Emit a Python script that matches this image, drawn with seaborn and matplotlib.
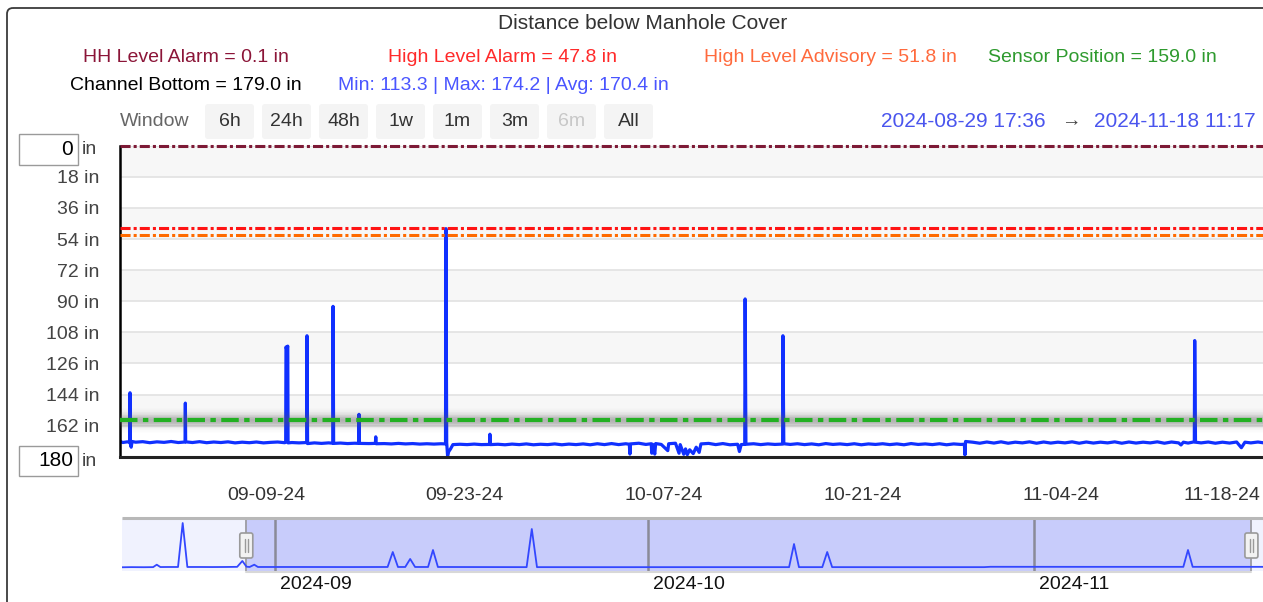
"""
Distance below Manhole Cover — level sensor chart with range overview.
"""
import numpy as np
import pandas as pd
import matplotlib
matplotlib.use("Agg")
import matplotlib.pyplot as plt
import matplotlib.dates as mdates
from matplotlib.patches import FancyBboxPatch, Rectangle
import seaborn as sns


# ── Thresholds & stats ─────────────────────────────────────
HH_ALARM = 0.1
HIGH_ALARM = 47.8
HIGH_ADVISORY = 51.8
SENSOR_POS = 159.0
CHANNEL_BOTTOM = 179.0
STAT_MIN, STAT_MAX, STAT_AVG = 113.3, 174.2, 170.4

WINDOW_START = "2024-08-29 17:36"
WINDOW_END = "2024-11-18 11:17"
OVERVIEW_START = "2024-08-19 18:00"
OVERVIEW_END = "2024-11-19 09:36"

Y_TICKS = [0, 18, 36, 54, 72, 90, 108, 126, 144, 162, 180]
X_TICKS = ["2024-09-09", "2024-09-23", "2024-10-07", "2024-10-21", "2024-11-04", "2024-11-18"]
MONTH_TICKS = ["2024-09-01", "2024-10-01", "2024-11-01"]
MONTH_LABELS = ["2024-09", "2024-10", "2024-11"]
WINDOW_BUTTONS = ["6h", "24h", "48h", "1w", "1m", "3m", "6m", "All"]

# ── Main series (distance below cover, inches) ────────────
MAIN_TIMES = [
    "2024-08-29 17:36", "2024-08-29 22:00", "2024-08-30 06:00", "2024-08-30 10:00",
    "2024-08-30 10:30", "2024-08-30 11:00", "2024-08-30 12:30", "2024-08-30 14:00",
    "2024-08-30 20:00", "2024-08-31 08:00", "2024-08-31 20:00", "2024-09-01 08:00",
    "2024-09-01 20:00", "2024-09-02 08:00", "2024-09-02 20:00", "2024-09-03 07:30",
    "2024-09-03 08:00", "2024-09-03 08:30", "2024-09-03 20:00", "2024-09-04 08:00",
    "2024-09-04 20:00", "2024-09-05 08:00", "2024-09-05 20:00", "2024-09-06 08:00",
    "2024-09-06 20:00", "2024-09-07 08:00", "2024-09-07 20:00", "2024-09-08 08:00",
    "2024-09-08 20:00", "2024-09-09 08:00", "2024-09-09 20:00", "2024-09-10 08:00",
    "2024-09-10 09:30", "2024-09-10 10:00", "2024-09-10 11:30", "2024-09-10 13:00",
    "2024-09-10 13:30", "2024-09-10 20:00", "2024-09-11 08:00", "2024-09-11 21:00",
    "2024-09-11 21:30", "2024-09-11 22:30", "2024-09-12 10:00", "2024-09-12 22:00",
    "2024-09-13 10:00", "2024-09-13 17:00", "2024-09-13 17:30", "2024-09-13 18:30",
    "2024-09-14 06:00", "2024-09-14 18:00", "2024-09-15 06:00", "2024-09-15 13:00",
    "2024-09-15 13:20", "2024-09-15 14:00", "2024-09-16 06:00", "2024-09-16 17:00",
    "2024-09-16 17:40", "2024-09-16 18:20", "2024-09-17 08:00", "2024-09-17 20:00",
    "2024-09-18 08:00", "2024-09-18 20:00", "2024-09-19 08:00", "2024-09-19 20:00",
    "2024-09-20 08:00", "2024-09-20 20:00", "2024-09-21 08:00", "2024-09-21 15:30",
    "2024-09-21 16:10", "2024-09-21 17:30", "2024-09-21 19:00", "2024-09-21 21:00",
    "2024-09-22 00:00", "2024-09-22 04:00", "2024-09-22 16:00", "2024-09-23 04:00",
    "2024-09-23 16:00", "2024-09-24 04:00", "2024-09-24 18:00", "2024-09-24 18:30",
    "2024-09-24 19:00", "2024-09-25 08:00", "2024-09-25 20:00", "2024-09-26 08:00",
    "2024-09-26 20:00", "2024-09-27 08:00", "2024-09-27 20:00", "2024-09-28 08:00",
    "2024-09-28 20:00", "2024-09-29 08:00", "2024-09-29 20:00", "2024-09-30 08:00",
    "2024-09-30 20:00", "2024-10-01 08:00", "2024-10-01 20:00", "2024-10-02 08:00",
    "2024-10-02 20:00", "2024-10-03 08:00", "2024-10-03 20:00", "2024-10-04 08:00",
    "2024-10-04 14:00", "2024-10-04 15:00", "2024-10-04 16:00", "2024-10-05 06:00",
    "2024-10-05 18:00", "2024-10-06 03:00", "2024-10-06 04:00", "2024-10-06 05:30",
    "2024-10-06 09:00", "2024-10-06 10:30", "2024-10-06 20:00", "2024-10-07 07:00",
    "2024-10-07 08:30", "2024-10-07 20:00", "2024-10-08 02:00", "2024-10-08 04:00",
    "2024-10-08 10:00", "2024-10-08 13:00", "2024-10-08 16:00", "2024-10-08 20:00",
    "2024-10-09 02:00", "2024-10-09 07:00", "2024-10-09 12:00", "2024-10-09 15:00",
    "2024-10-10 04:00", "2024-10-10 16:00", "2024-10-11 04:00", "2024-10-11 16:00",
    "2024-10-12 05:00", "2024-10-12 08:00", "2024-10-12 11:00", "2024-10-12 17:00",
    "2024-10-12 17:40", "2024-10-12 19:00", "2024-10-13 08:00", "2024-10-13 20:00",
    "2024-10-14 08:00", "2024-10-14 20:00", "2024-10-15 09:00", "2024-10-15 09:30",
    "2024-10-15 11:00", "2024-10-15 22:00", "2024-10-16 10:00", "2024-10-16 22:00",
    "2024-10-17 10:00", "2024-10-17 22:00", "2024-10-18 10:00", "2024-10-18 22:00",
    "2024-10-19 10:00", "2024-10-19 22:00", "2024-10-20 10:00", "2024-10-20 22:00",
    "2024-10-21 10:00", "2024-10-21 22:00", "2024-10-22 10:00", "2024-10-22 22:00",
    "2024-10-23 10:00", "2024-10-23 22:00", "2024-10-24 10:00", "2024-10-24 22:00",
    "2024-10-25 10:00", "2024-10-25 22:00", "2024-10-26 10:00", "2024-10-26 22:00",
    "2024-10-27 10:00", "2024-10-27 22:00", "2024-10-28 04:00", "2024-10-28 05:00",
    "2024-10-28 06:00", "2024-10-28 18:00", "2024-10-29 06:00", "2024-10-29 18:00",
    "2024-10-30 06:00", "2024-10-30 18:00", "2024-10-31 06:00", "2024-10-31 18:00",
    "2024-11-01 06:00", "2024-11-01 18:00", "2024-11-02 06:00", "2024-11-02 18:00",
    "2024-11-03 06:00", "2024-11-03 18:00", "2024-11-04 06:00", "2024-11-04 18:00",
    "2024-11-05 06:00", "2024-11-05 18:00", "2024-11-06 06:00", "2024-11-06 18:00",
    "2024-11-07 06:00", "2024-11-07 18:00", "2024-11-08 06:00", "2024-11-08 18:00",
    "2024-11-09 06:00", "2024-11-09 18:00", "2024-11-10 06:00", "2024-11-10 18:00",
    "2024-11-11 06:00", "2024-11-11 18:00", "2024-11-12 06:00", "2024-11-12 10:00",
    "2024-11-12 14:00", "2024-11-12 22:00", "2024-11-13 08:30", "2024-11-13 09:10",
    "2024-11-13 10:30", "2024-11-13 20:00", "2024-11-14 08:00", "2024-11-14 20:00",
    "2024-11-15 08:00", "2024-11-15 20:00", "2024-11-16 08:00", "2024-11-16 16:00",
    "2024-11-16 22:00", "2024-11-17 08:00", "2024-11-17 20:00", "2024-11-18 08:00",
    "2024-11-18 12:00", "2024-11-19 06:00",
]
MAIN_DEPTH = [
    171.0, 171.8, 171.4, 171.6,
    143.0, 172.4, 174.5, 171.2,
    171.6, 171.3, 171.9, 171.4,
    171.7, 171.2, 171.8, 171.5,
    149.0, 171.4, 171.8, 171.3,
    171.9, 171.5, 171.8, 171.4,
    172.0, 171.6, 171.9, 171.5,
    172.0, 171.7, 171.5, 171.9,
    171.6, 116.5, 118.0, 116.0,
    172.0, 171.8, 172.0, 171.8,
    110.0, 172.4, 172.0, 172.3,
    172.0, 172.2, 93.0, 172.3,
    172.1, 172.4, 172.2, 172.3,
    155.5, 172.3, 172.4, 172.3,
    168.5, 172.5, 172.4, 172.6,
    172.3, 172.6, 172.4, 172.7,
    172.5, 172.7, 172.5, 172.6,
    48.0, 172.0, 179.5, 177.0,
    175.5, 173.0, 172.8, 173.0,
    172.7, 173.0, 172.9, 167.0,
    173.0, 172.8, 173.1, 172.7,
    173.0, 172.6, 173.1, 172.8,
    173.0, 172.6, 173.1, 172.7,
    173.0, 172.6, 173.1, 172.5,
    173.0, 172.4, 173.0, 172.5,
    172.8, 178.5, 172.6, 172.2,
    172.9, 172.5, 178.0, 172.8,
    178.5, 172.4, 172.9, 176.5,
    172.5, 172.2, 178.0, 173.0,
    178.6, 175.5, 178.8, 176.0,
    178.2, 174.5, 177.5, 172.6,
    172.3, 173.0, 172.4, 173.1,
    172.8, 177.0, 173.0, 172.8,
    88.7, 172.8, 172.5, 173.0,
    172.6, 172.9, 172.7, 110.0,
    172.5, 172.9, 172.5, 173.0,
    172.6, 173.1, 172.4, 172.9,
    172.6, 173.0, 172.5, 173.1,
    172.6, 172.9, 172.5, 173.0,
    172.6, 173.1, 172.4, 172.9,
    172.6, 173.0, 172.5, 173.1,
    172.6, 172.9, 172.8, 179.0,
    171.2, 171.6, 172.2, 171.5,
    172.1, 171.4, 172.2, 171.6,
    172.0, 171.4, 172.2, 171.5,
    172.1, 171.6, 172.0, 171.4,
    172.2, 171.5, 172.1, 171.6,
    172.0, 171.4, 172.2, 171.5,
    172.1, 171.6, 172.0, 171.4,
    172.2, 171.5, 172.0, 173.2,
    171.6, 172.1, 171.4, 112.8,
    171.6, 172.0, 171.5, 172.2,
    171.6, 172.1, 171.5, 174.8,
    171.6, 172.0, 171.5, 172.1,
    171.6, 171.8,
]

# ── Overview series (smoothed, full record) ───────────────
OV_TIMES = [
    "2024-08-19 18:00", "2024-08-20 12:00", "2024-08-21 12:00", "2024-08-22 06:00",
    "2024-08-22 13:00", "2024-08-22 20:00", "2024-08-23 12:00", "2024-08-24 06:00",
    "2024-08-24 15:00", "2024-08-25 00:00", "2024-08-26 00:00", "2024-08-27 00:00",
    "2024-08-28 00:00", "2024-08-29 00:00", "2024-08-29 10:00", "2024-08-29 18:00",
    "2024-08-30 00:00", "2024-08-30 09:00", "2024-08-30 16:00", "2024-09-03 00:00",
    "2024-09-07 00:00", "2024-09-10 02:00", "2024-09-10 12:00", "2024-09-10 22:00",
    "2024-09-11 12:00", "2024-09-11 21:30", "2024-09-12 07:00", "2024-09-13 08:00",
    "2024-09-13 17:30", "2024-09-14 03:00", "2024-09-17 00:00", "2024-09-21 06:00",
    "2024-09-21 16:00", "2024-09-22 02:00", "2024-09-28 00:00", "2024-10-05 00:00",
    "2024-10-12 08:00", "2024-10-12 17:30", "2024-10-13 03:00", "2024-10-15 00:00",
    "2024-10-15 09:30", "2024-10-15 19:00", "2024-10-22 00:00", "2024-10-28 00:00",
    "2024-10-28 12:00", "2024-11-05 00:00", "2024-11-13 00:00", "2024-11-13 09:00",
    "2024-11-13 18:00", "2024-11-19 09:36",
]
OV_DEPTH = [
    172.0, 171.5, 171.8, 171.5,
    163.0, 171.2, 171.0, 171.0,
    17.5, 171.0, 171.0, 171.2,
    171.0, 170.5, 150.0, 170.0,
    171.0, 163.0, 171.0, 171.0,
    171.2, 171.0, 118.7, 171.0,
    171.0, 143.0, 171.0, 171.0,
    111.7, 171.0, 171.2, 171.5,
    38.4, 171.5, 171.6, 171.5,
    171.5, 90.8, 171.5, 171.5,
    118.7, 171.5, 171.6, 171.5,
    170.3, 170.5, 170.5, 111.7,
    170.5, 170.5,
]

# ── Layout in screenshot pixels ───────────────────────────
W, H = 1263, 602
MAIN_BOX = (120, 145.7, 1267, 456.7)   # left, top, right, bottom
OV_BOX = (122, 518, 1263, 571)

FONT = ["Liberation Sans", "DejaVu Sans"]


def fig_rect(l, t, r, b):
    return [l / W, 1 - b / H, (r - l) / W, (b - t) / H]


sns.set_style("white")
plt.rcParams["font.family"] = FONT

fig = plt.figure(figsize=(W / 100, H / 100), dpi=100)
fig.patch.set_facecolor("white")

# ── Main chart ─────────────────────────────────────────────
ax = fig.add_axes(fig_rect(*MAIN_BOX))
ax.set_facecolor("white")
ax.set_ylim(180, 0)

# alternating bands + grid
for i, y0 in enumerate(Y_TICKS[:-1]):
    if i % 2 == 0:
        ax.axhspan(y0, y0 + 18, color="#f7f7f7", lw=0, zorder=0)
ax.set_axisbelow(True)
ax.yaxis.grid(True, color="#e2e2e2", lw=1.2)
ax.xaxis.grid(False)

main_df = pd.DataFrame({"time": pd.to_datetime(MAIN_TIMES), "depth": MAIN_DEPTH})
sns.lineplot(data=main_df, x="time", y="depth", ax=ax, color="#1030ff",
             linewidth=2.3, zorder=2)

# sensor deadband shading (soft grey gradient)
edges = np.linspace(SENSOR_POS - 7.0, SENSOR_POS + 7.0, 36)
for a, b in zip(edges[:-1], edges[1:]):
    mid = (a + b) / 2
    alpha = 0.42 * np.exp(-((mid - SENSOR_POS) / 3.6) ** 2)
    ax.axhspan(a, b, color="#555555", alpha=alpha, lw=0, zorder=3)

# threshold lines
ax.axhline(HH_ALARM, color="#7d1a36", lw=2.2, dashes=(3.3, 1, 1, 1), clip_on=False, zorder=4)
ax.axhline(HIGH_ALARM, color="#ff1414", lw=2.2, dashes=(3.3, 1, 1, 1), zorder=4)
ax.axhline(HIGH_ADVISORY, color="#ff6a00", lw=2.2, dashes=(3.3, 1, 1, 1), zorder=4)
ax.axhline(SENSOR_POS, color="#22b022", lw=3.0, dashes=(4.2, 1.3, 1.3, 1.3), zorder=4)

# y axis
ax.set_yticks(Y_TICKS)
ax.set_yticklabels(["" if v in (0, 180) else f"{v} in" for v in Y_TICKS])
ax.set_yticks([v * 3.6 for v in range(50)], minor=True)
ax.tick_params(axis="y", which="major", direction="out", length=6.5, width=1.8,
               color="black", pad=8.5, labelsize=14, labelcolor="#444444")
ax.tick_params(axis="y", which="minor", direction="in", length=3, width=0.8, color="#9a9a9a")

# x axis
ax.set_xlim(mdates.date2num(pd.Timestamp(WINDOW_START)), mdates.date2num(pd.Timestamp(WINDOW_END)))
ax.set_xticks([mdates.date2num(pd.Timestamp(d)) for d in X_TICKS])
ax.set_xticklabels([pd.Timestamp(d).strftime("%m-%d-%y") for d in X_TICKS])
ax.set_xticks([mdates.date2num(d) for d in pd.date_range("2024-08-30", "2024-11-18", freq="2D")],
              minor=True)
ax.tick_params(axis="x", which="major", length=0, pad=22, labelsize=14, labelcolor="#333333")
ax.tick_params(axis="x", which="minor", direction="in", length=3, width=1, color="#9a9a9a")
ax.get_xticklabels()[-1].set_horizontalalignment("right")
ax.set_xlabel("")
ax.set_ylabel("")

for side in ("top", "right"):
    ax.spines[side].set_visible(False)
ax.spines["left"].set_color("black")
ax.spines["left"].set_linewidth(1.8)
ax.spines["bottom"].set_color("#222222")
ax.spines["bottom"].set_linewidth(2.2)

# ── Overview / range selector ─────────────────────────────
ov = fig.add_axes(fig_rect(*OV_BOX))
ov.set_facecolor("#f0f2fe")
ov.set_xlim(mdates.date2num(pd.Timestamp(OVERVIEW_START)), mdates.date2num(pd.Timestamp(OVERVIEW_END)))
ov.set_ylim(185, 0)
ws = mdates.date2num(pd.Timestamp(WINDOW_START))
we = mdates.date2num(pd.Timestamp(WINDOW_END))
ov.axvspan(ws, we, color="#c8ccfb", lw=0, zorder=0)
for m in MONTH_TICKS:
    ov.axvline(mdates.date2num(pd.Timestamp(m)), color="#8a8a98", lw=1.8, zorder=1)
ov.axvline(ws, color="#a0a0a8", lw=1.4, zorder=1)
ov.axvline(we, color="#a0a0a8", lw=1.4, zorder=1)

ov_df = pd.DataFrame({"time": pd.to_datetime(OV_TIMES), "depth": OV_DEPTH})
sns.lineplot(data=ov_df, x="time", y="depth", ax=ov, color="#3347ff", linewidth=1.3, zorder=2)
ov.set_xticks([])
ov.set_yticks([])
ov.set_xlabel("")
ov.set_ylabel("")
for s in ov.spines.values():
    s.set_visible(False)

for m, lab in zip(MONTH_TICKS, MONTH_LABELS):
    ov.annotate(lab, xy=(mdates.date2num(pd.Timestamp(m)), 0), xycoords=("data", "axes fraction"),
                xytext=(3.6, -10), textcoords="offset points", ha="left", va="center",
                fontsize=14, color="#111111", annotation_clip=False)

handle_x = [ov.transData.transform((t, 0))[0] for t in (ws, we)]

# ── Overlay in pixel coordinates (header, buttons, boxes) ─
px = fig.add_axes([0, 0, 1, 1])
px.set_xlim(0, W)
px.set_ylim(H, 0)
px.axis("off")
px.patch.set_alpha(0)

# widget border
px.add_patch(FancyBboxPatch((7, 8), 1400, 700, boxstyle="round,pad=0,rounding_size=6",
                            fc="none", ec="#3a3a3a", lw=1.3))

# title + legend texts
px.text(643, 23.5, "Distance below Manhole Cover", fontsize=15, color="#333333", ha="center", va="center")
legend_row1 = [
    (186, f"HH Level Alarm = {HH_ALARM} in", "#8b1538"),
    (502, f"High Level Alarm = {HIGH_ALARM} in", "#ff2a2a"),
    (830, f"High Level Advisory = {HIGH_ADVISORY} in", "#ff6a3d"),
    (1102, f"Sensor Position = {SENSOR_POS} in", "#2e9a2e"),
]
for x, s, c in legend_row1:
    px.text(x, 57, s, fontsize=14, color=c, ha="center", va="center")
px.text(186, 85, f"Channel Bottom = {CHANNEL_BOTTOM} in", fontsize=14, color="black",
        ha="center", va="center")
px.text(503, 85, f"Min: {STAT_MIN} | Max: {STAT_MAX} | Avg: {STAT_AVG} in", fontsize=14,
        color="#4a55ff", ha="center", va="center")

# window buttons
px.text(120, 121.5, "Window", fontsize=14, color="#666666", ha="left", va="center")
for i, lab in enumerate(WINDOW_BUTTONS):
    x0 = 205 + 57 * i
    px.add_patch(FancyBboxPatch((x0, 104), 49, 35, boxstyle="round,pad=0,rounding_size=3",
                                fc="#f4f4f4", ec="none"))
    px.text(x0 + 24.5, 121.5, lab, fontsize=14, color="#c8c8c8" if lab == "6m" else "#333333",
            ha="center", va="center")

# visible range
px.text(881, 121.5, pd.Timestamp(WINDOW_START).strftime("%Y-%m-%d %H:%M"), fontsize=15,
        color="#4a55ee", ha="left", va="center")
px.text(1071, 122, "→", fontsize=14, color="#444444", ha="center", va="center")
px.text(1256, 121.5, pd.Timestamp(WINDOW_END).strftime("%Y-%m-%d %H:%M"), fontsize=15,
        color="#4a55ee", ha="right", va="center")

# y range input boxes
for (top, hgt, val) in ((134, 31, "0"), (446, 30, "180")):
    px.add_patch(Rectangle((19, top), 59, hgt, fc="white", ec="#9a9a9a", lw=1.0))
    px.text(73, top + hgt / 2, val, fontsize=15, color="black", ha="right", va="center")
    px.text(82, top + hgt / 2, "in", fontsize=14, color="#444444", ha="left", va="center")

# overview frame details + handles
px.plot([122, W], [518, 518], color="#b8b8b8", lw=2.2, solid_capstyle="butt")
px.plot([handle_x[0], handle_x[1]], [572, 572], color="#d8d8d8", lw=1.5)
for hx in handle_x:
    px.add_patch(FancyBboxPatch((hx - 6.5, 533), 13, 25, boxstyle="round,pad=0,rounding_size=2",
                                fc="#f2f2f2", ec="#9a9a9a", lw=1.2, zorder=5))
    for dx in (-1.6, 1.6):
        px.plot([hx + dx, hx + dx], [539, 552], color="#9a9a9a", lw=1.0, zorder=6)

fig.savefig("out.png", dpi=100)
plt.close(fig)
